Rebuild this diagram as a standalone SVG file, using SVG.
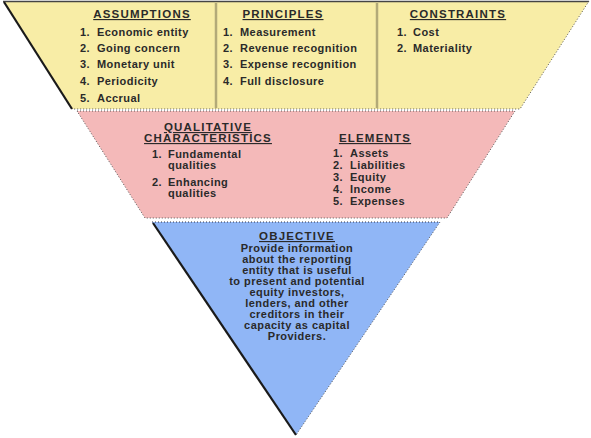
<svg xmlns="http://www.w3.org/2000/svg" width="591" height="438" viewBox="0 0 591 438">
<style>
.t{font-family:"Liberation Sans",Arial,sans-serif;font-size:11px;font-weight:bold;fill:#2a2a2a;letter-spacing:0.45px;}
.h{text-decoration:underline;text-anchor:middle;font-size:11.5px;letter-spacing:1.2px;}
.c{text-anchor:middle;}
.dark{stroke:#1a1a1a;stroke-width:2.2;fill:none;}
.dot{stroke:#555;stroke-width:1;stroke-dasharray:1 2;fill:none;}
.div{stroke:#b3aa78;stroke-width:2.5;}
</style>
<rect width="591" height="438" fill="#ffffff"/>
<g id="assumptions-principles-constraints">
<polygon points="3,1 589,1 520,109 72,109" fill="#f8eda6"/>
<line x1="3" y1="1.5" x2="589" y2="1.5" stroke="#444" stroke-width="1.5"/>
<line class="dark" x1="4" y1="2" x2="72" y2="109"/>
<polyline class="dot" points="589,1 520,109 72,109"/>
<line class="div" x1="216" y1="3" x2="216" y2="108"/>
<line class="div" x1="377" y1="3" x2="377" y2="108"/>
<g id="assumptions">
<text class="t h" x="142" y="18">ASSUMPTIONS</text>
<text class="t" x="80" y="36">1.</text><text class="t" x="97" y="36">Economic entity</text>
<text class="t" x="80" y="52">2.</text><text class="t" x="97" y="52">Going concern</text>
<text class="t" x="80" y="68">3.</text><text class="t" x="97" y="68">Monetary unit</text>
<text class="t" x="80" y="85">4.</text><text class="t" x="97" y="85">Periodicity</text>
<text class="t" x="80" y="102">5.</text><text class="t" x="97" y="102">Accrual</text>
</g>
<g id="principles">
<text class="t h" x="283" y="18">PRINCIPLES</text>
<text class="t" x="223" y="36">1.</text><text class="t" x="240" y="36">Measurement</text>
<text class="t" x="223" y="52">2.</text><text class="t" x="240" y="52">Revenue recognition</text>
<text class="t" x="223" y="68">3.</text><text class="t" x="240" y="68">Expense recognition</text>
<text class="t" x="223" y="85">4.</text><text class="t" x="240" y="85">Full disclosure</text>
</g>
<g id="constraints">
<text class="t h" x="458" y="18">CONSTRAINTS</text>
<text class="t" x="397" y="36">1.</text><text class="t" x="413" y="36">Cost</text>
<text class="t" x="397" y="52">2.</text><text class="t" x="413" y="52">Materiality</text>
</g>
</g>
<g id="qualitative-elements">
<polygon points="77,111 515,111 447,218 145,218" fill="#f4b9b9"/>
<polyline class="dot" points="77,111 515,111 447,218 145,218 77,111"/>
<g id="qualitative">
<text class="t h" x="208" y="131">QUALITATIVE</text>
<text class="t h" x="208" y="142">CHARACTERISTICS</text>
<text class="t" x="152" y="158">1.</text><text class="t" x="168" y="158">Fundamental</text>
<text class="t" x="168" y="169">qualities</text>
<text class="t" x="152" y="186">2.</text><text class="t" x="168" y="186">Enhancing</text>
<text class="t" x="168" y="197">qualities</text>
</g>
<g id="elements">
<text class="t h" x="375" y="142">ELEMENTS</text>
<text class="t" x="333" y="157">1.</text><text class="t" x="350" y="157">Assets</text>
<text class="t" x="333" y="169">2.</text><text class="t" x="350" y="169">Liabilities</text>
<text class="t" x="333" y="181">3.</text><text class="t" x="350" y="181">Equity</text>
<text class="t" x="333" y="193">4.</text><text class="t" x="350" y="193">Income</text>
<text class="t" x="333" y="205">5.</text><text class="t" x="350" y="205">Expenses</text>
</g>
</g>
<g id="objective">
<polygon points="152,222 440,222 296,435" fill="#90b6f6"/>
<line x1="152" y1="222" x2="440" y2="222" stroke="#334" stroke-width="1" stroke-dasharray="1 2"/>
<line class="dark" x1="153" y1="223" x2="296" y2="435"/>
<line class="dot" x1="440" y1="222" x2="296" y2="435"/>
<text class="t h" x="297" y="240">OBJECTIVE</text>
<text class="t c" x="297" y="252">Provide information</text>
<text class="t c" x="297" y="263">about the reporting</text>
<text class="t c" x="297" y="274">entity that is useful</text>
<text class="t c" x="297" y="285">to present and potential</text>
<text class="t c" x="297" y="296">equity investors,</text>
<text class="t c" x="297" y="307">lenders, and other</text>
<text class="t c" x="297" y="318">creditors in their</text>
<text class="t c" x="297" y="329">capacity as capital</text>
<text class="t c" x="297" y="340">Providers.</text>
</g>
</svg>
